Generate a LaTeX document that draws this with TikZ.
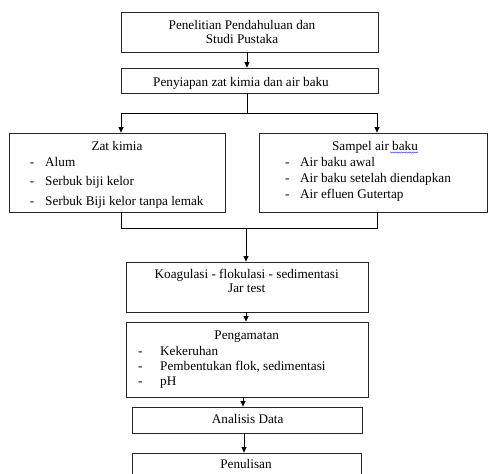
\documentclass[tikz,border=0pt]{standalone}
\usepackage{fontspec}
\setmainfont{Liberation Serif}
\usetikzlibrary{arrows.meta,decorations.pathmorphing}
\begin{document}
\begin{tikzpicture}[x=1pt,y=-1pt,
  font=\fontsize{13.2}{15.5}\selectfont,
  box/.style={draw=black!85, line width=0.8pt, inner sep=0pt},
  conn/.style={draw=black, line width=0.8pt},
  arr/.style={conn, -{Triangle[length=5.5pt,width=5pt]}},
  txt/.style={inner sep=0pt, anchor=base},
  itm/.style={inner sep=0pt, anchor=base west}]
\useasboundingbox (0,0) rectangle (488,474);
\fill[white] (0,0) rectangle (488,474);

% boxes
\node[box, minimum width=257pt, minimum height=40pt] (b1) at (249.5,32) {};
\node[box, minimum width=257pt, minimum height=25pt] (b2) at (249.5,80.5) {};
\node[box, minimum width=216pt, minimum height=79pt] (z) at (117,172.5) {};
\node[box, minimum width=228pt, minimum height=79pt] (s) at (373,172.5) {};
\node[box, minimum width=242pt, minimum height=50pt] (k) at (247,287) {};
\node[box, minimum width=242pt, minimum height=75pt] (p) at (247,359.5) {};
\node[box, minimum width=230pt, minimum height=26pt] (a) at (247,420) {};
\node[box, minimum width=229pt, minimum height=40pt] (w) at (246.5,473) {};

% texts
\node[txt] (t1a) at (242,29.5) {Penelitian Pendahuluan dan};
\node[txt] (t1b) at (242,43.5) {Studi Pustaka};
\node[txt] (t2) at (241,86) {Penyiapan zat kimia dan air baku};

\node[txt] (zt) at (117,150) {Zat kimia};
\node[itm] (zd1) at (29.8,166) {-};
\node[itm] (zi1) at (45,166) {Alum};
\node[itm] (zd2) at (29.8,185.5) {-};
\node[itm] (zi2) at (45,185.5) {Serbuk biji kelor};
\node[itm] (zd3) at (29.8,205) {-};
\node[itm] (zi3) at (45,205) {Serbuk Biji kelor tanpa lemak};

\node[txt] (st) at (375,150) {Sampel air baku};
\draw[blue!70, line width=0.5pt, decorate, decoration={snake, amplitude=0.6pt, segment length=2.2pt}] (390,152.5) -- (418,152.5);
\node[itm] (sd1) at (284.8,166) {-};
\node[itm] (si1) at (300,166) {Air baku awal};
\node[itm] (sd2) at (284.8,182.5) {-};
\node[itm] (si2) at (300,182.5) {Air baku setelah diendapkan};
\node[itm] (sd3) at (284.8,198) {-};
\node[itm] (si3) at (300,198) {Air efluen Gutertap};

\node[txt] (kt1) at (246.7,278) {Koagulasi - flokulasi - sedimentasi};
\node[txt] (kt2) at (246.7,292.5) {Jar test};

\node[txt] (pt) at (246.7,339) {Pengamatan};
\node[itm] (pd1) at (137.8,355) {-};
\node[itm] (pi1) at (160,355) {Kekeruhan};
\node[itm] (pd2) at (137.8,370) {-};
\node[itm] (pi2) at (160,370) {Pembentukan flok, sedimentasi};
\node[itm] (pd3) at (137.8,385) {-};
\node[itm] (pi3) at (160,385) {pH};

\node[txt] (at) at (247.7,423.5) {Analisis Data};
\node[txt] (wt) at (246,468) {Penulisan};

% connectors
\coordinate (c1) at (247,0);
\draw[arr] (c1 |- b1.south) -- (c1 |- b2.north);
\coordinate (j1) at (247,113);
\coordinate (sl) at (121,113);
\coordinate (sr) at (377,113);
\draw[conn] (j1 |- b2.south) -- (j1);
\draw[conn] (sl) -- (sr);
\draw[arr] (sl) -- (sl |- z.north);
\draw[arr] (sr) -- (sr |- s.north);

\coordinate (ml) at (121,228);
\coordinate (mr) at (377,228);
\coordinate (m) at (246,228);
\draw[conn] (ml |- z.south) -- (ml) -- (mr) -- (mr |- s.south);
\draw[arr] (m) -- (m |- k.north);
\draw[arr] (m |- k.south) -- (m |- p.north);
\coordinate (c2) at (243,0);
\draw[arr] (c2 |- p.south) -- (c2 |- a.north);
\coordinate (c3) at (244,0);
\draw[arr] (c3 |- a.south) -- (c3 |- w.north);
\end{tikzpicture}
\end{document}
